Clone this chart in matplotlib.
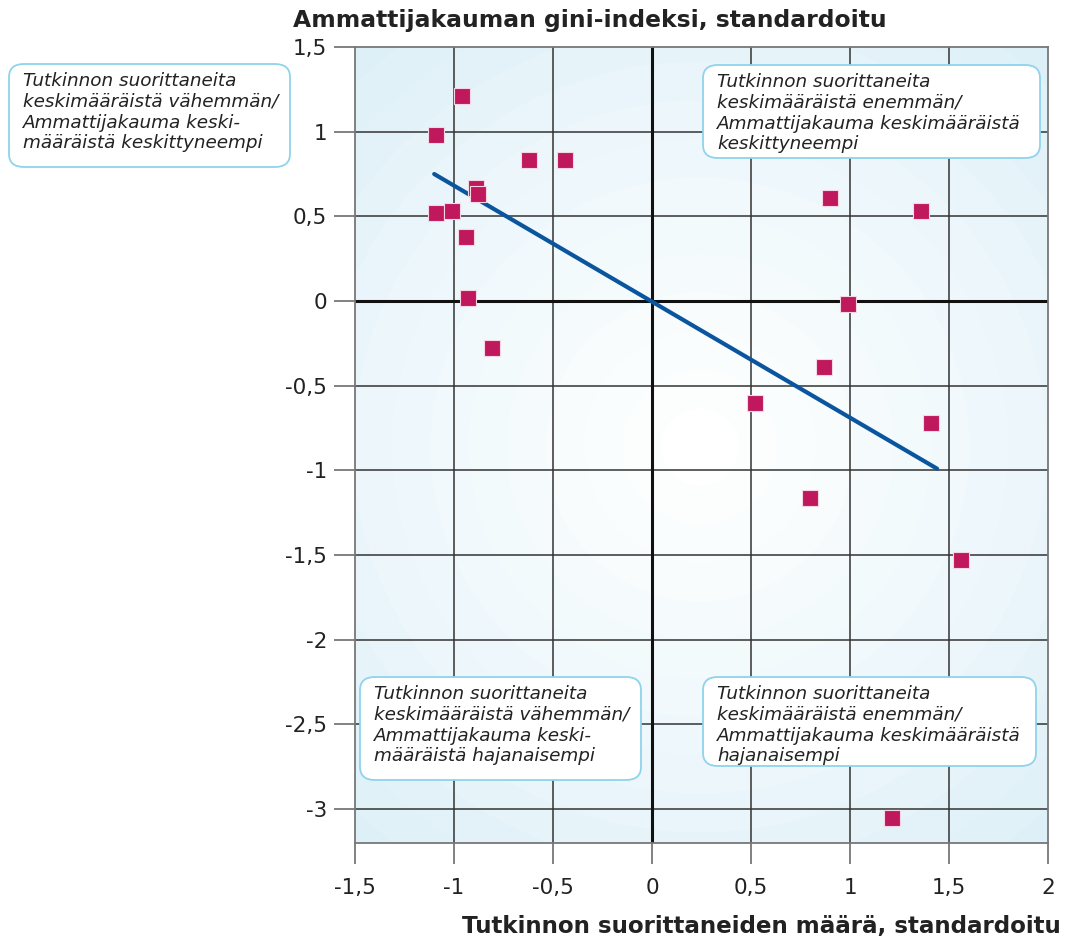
import numpy as np
import matplotlib
matplotlib.use("Agg")
import matplotlib.pyplot as plt
from matplotlib.patches import FancyBboxPatch
from matplotlib.colors import LinearSegmentedColormap

plt.rcParams['font.family'] = ['DejaVu Sans']

# ---- data ----
x_vals = [-0.96, -1.09, -0.62, -0.44, -0.89, -0.88, -1.09, -1.01, -0.94, -0.93, -0.81,
          0.90, 1.36, 0.99, 0.87, 0.52, 1.41, 0.80, 1.56, 1.21]
y_vals = [1.21, 0.98, 0.83, 0.83, 0.67, 0.63, 0.52, 0.53, 0.38, 0.02, -0.28,
          0.61, 0.53, -0.02, -0.39, -0.60, -0.72, -1.16, -1.53, -3.05]
trend_x = [-1.10, 1.44]
trend_y = [0.75, -0.99]
x_ticks = [-1.5, -1, -0.5, 0, 0.5, 1, 1.5, 2]
x_tick_labels = ["-1,5", "-1", "-0,5", "0", "0,5", "1", "1,5", "2"]
y_ticks = [1.5, 1, 0.5, 0, -0.5, -1, -1.5, -2, -2.5, -3]
y_tick_labels = ["1,5", "1", "0,5", "0", "-0,5", "-1", "-1,5", "-2", "-2,5", "-3"]
title = "Ammattijakauman gini-indeksi, standardoitu"
xlabel = "Tutkinnon suorittaneiden määrä, standardoitu"
box_texts = [
    "Tutkinnon suorittaneita\nkeskimääräistä vähemmän/\nAmmattijakauma keski-\nmääräistä keskittyneempi",
    "Tutkinnon suorittaneita\nkeskimääräistä enemmän/\nAmmattijakauma keskimääräistä\nkeskittyneempi",
    "Tutkinnon suorittaneita\nkeskimääräistä vähemmän/\nAmmattijakauma keski-\nmääräistä hajanaisempi",
    "Tutkinnon suorittaneita\nkeskimääräistä enemmän/\nAmmattijakauma keskimääräistä\nhajanaisempi",
]

W, H = 1066, 944
fig = plt.figure(figsize=(W / 100, H / 100), dpi=100)
fig.patch.set_facecolor("white")

def fx(px):
    return px / W

def fy(py):
    return 1 - py / H

ax_l, ax_r, ax_t, ax_b = 355, 1048, 47, 843
ax = fig.add_axes([fx(ax_l), fy(ax_b), (ax_r - ax_l) / W, (ax_b - ax_t) / H])
xmin, xmax, ymin, ymax = -1.5, 2.0, -3.2, 1.5
ax.set_xlim(xmin, xmax)
ax.set_ylim(ymin, ymax)

# radial gradient background
nx, ny = 700, 800
gx = np.linspace(ax_l, ax_r, nx)
gy = np.linspace(ax_t, ax_b, ny)
GX, GY = np.meshgrid(gx, gy)
cx, cy = 700, 447
R = np.sqrt((GX - cx) ** 2 + (GY - cy) ** 2)
Rn = np.clip(R / 540.0, 0, 1)
Rn = np.floor(Rn * 14) / 14
cmap = LinearSegmentedColormap.from_list("bg", ["#ffffff", "#eff8fc", "#dbeff7"])
ax.imshow(Rn, cmap=cmap, vmin=0, vmax=1, extent=[xmin, xmax, ymin, ymax],
          origin="upper", aspect="auto", zorder=0, interpolation="bilinear")

# grid
for xv in [-1, -0.5, 0.5, 1, 1.5]:
    ax.axvline(xv, color="#333333", lw=1.1, zorder=1)
for yv in [1, 0.5, -0.5, -1, -1.5, -2, -2.5, -3]:
    ax.axhline(yv, color="#333333", lw=1.1, zorder=1)
ax.axvline(0, color="#111111", lw=2.2, zorder=2)
ax.axhline(0, color="#111111", lw=2.2, zorder=2)

ax.plot(trend_x, trend_y, color="#0a559e", lw=3, solid_capstyle="round", zorder=3)
ax.scatter(x_vals, y_vals, marker="s", s=125, color="#c0185c",
           edgecolors="#f5d6e3", linewidths=0.8, zorder=4)

for sp in ax.spines.values():
    sp.set_color("#777777")
    sp.set_linewidth(1.3)

ax.set_xticks(x_ticks)
ax.set_xticklabels(x_tick_labels)
ax.set_yticks(y_ticks)
ax.set_yticklabels(y_tick_labels)
ax.tick_params(axis="both", direction="out", length=15, width=1.3, color="#777777",
               labelsize=15.5, labelcolor="#222222")
ax.tick_params(axis="x", pad=10)
ax.tick_params(axis="y", pad=5)

fig.text(fx(293), fy(20), title, fontsize=16.9, fontweight="bold",
         color="#222222", ha="left", va="center")
fig.text(fx(1061), fy(927), xlabel, fontsize=16.6, fontweight="bold",
         color="#222222", ha="right", va="center")

# annotation boxes: (left, top, right, bottom) in pixels
boxes = [(9, 64, 290, 167), (703, 65, 1040, 158), (360, 677, 641, 780), (703, 677, 1036, 766)]
for (l, t, r, b), txt in zip(boxes, box_texts):
    p = FancyBboxPatch((fx(l), fy(b)), (r - l) / W, (b - t) / H,
                       boxstyle="round,pad=0,rounding_size=0.014",
                       transform=fig.transFigure, facecolor="white",
                       edgecolor="#8fd3ec", linewidth=1.3, zorder=10)
    fig.add_artist(p)
    fig.text(fx(l + 14), fy(t + 8), txt, fontsize=13.2, style="italic",
             color="#222222", ha="left", va="top", linespacing=1.2, zorder=11)

fig.savefig("out.png", dpi=100)
